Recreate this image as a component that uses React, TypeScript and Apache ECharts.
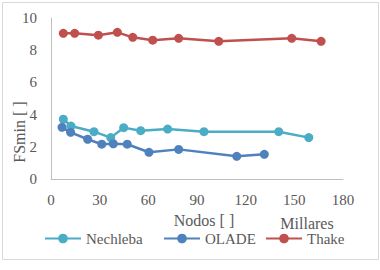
import React, { useEffect, useRef } from "react";
import * as echarts from "echarts";

const nechlebaX = [7.6, 12.3, 26.5, 36.8, 44.8, 55.3, 71.9, 94.3, 140.4, 158.9];
const nechlebaY = [3.71, 3.29, 2.94, 2.57, 3.19, 3.0, 3.1, 2.94, 2.94, 2.57];
const oladeX = [6.8, 12.1, 22.6, 31.3, 38.4, 47.0, 60.4, 78.7, 114.5, 131.5];
const oladeY = [3.21, 2.9, 2.47, 2.16, 2.19, 2.16, 1.66, 1.84, 1.41, 1.53];
const thakeX = [7.6, 14.6, 29.2, 40.9, 50.4, 62.7, 78.7, 103.4, 148.4, 166.5];
const thakeY = [9.05, 9.05, 8.93, 9.11, 8.8, 8.62, 8.74, 8.55, 8.74, 8.55];

const seriesNames = ["Nechleba", "OLADE", "Thake"];
const seriesColors = ["#4BACC6", "#4F81BD", "#C0504D"];
const legendLefts = [39, 158, 260];
const xTitle = "Nodos [ ]";
const yTitle = "FSmin [ ]";
const unitLabel = "Millares";

const FONT = "Liberation Serif";
const TXT = "#595959";

function zip(xs: number[], ys: number[]) {
  return xs.map((x, i) => [x, ys[i]]);
}

export default function App() {
  const ref = useRef<HTMLDivElement>(null);
  useEffect(() => {
    if (!ref.current) return;
    const chart = echarts.init(ref.current, undefined, { renderer: "svg" });
    const datas = [zip(nechlebaX, nechlebaY), zip(oladeX, oladeY), zip(thakeX, thakeY)];
    chart.setOption({
      animation: false,
      backgroundColor: "#ffffff",
      textStyle: { fontFamily: FONT },
      grid: { left: 51, top: 18, right: 37, bottom: 91, containLabel: false },
      xAxis: {
        type: "value",
        min: 0,
        max: 180,
        interval: 30,
        axisLine: { show: true, lineStyle: { color: "#BFBFBF", width: 1 } },
        axisTick: { show: false },
        splitLine: { show: false },
        axisLabel: { color: TXT, fontSize: 15, fontFamily: FONT, margin: 13 },
      },
      yAxis: {
        type: "value",
        min: 0,
        max: 10,
        interval: 2,
        axisLine: { show: true, lineStyle: { color: "#BFBFBF", width: 1 } },
        axisTick: { show: false },
        splitLine: { show: false },
        axisLabel: { color: TXT, fontSize: 15, fontFamily: FONT, margin: 14 },
      },
      legend: seriesNames.map((name, i) => ({
        left: legendLefts[i],
        top: 226,
        itemWidth: 36,
        itemHeight: 12,
        textStyle: { color: TXT, fontSize: 15, fontFamily: FONT },
        data: [name],
      })),
      graphic: [
        {
          type: "rect",
          shape: { x: 2.5, y: 2.5, width: 376, height: 257 },
          style: { fill: "none", stroke: "#D9D9D9", lineWidth: 1 },
          silent: true,
        },
        {
          type: "text",
          x: 204,
          y: 220,
          style: {
            text: xTitle,
            fill: TXT,
            fontSize: 16,
            fontFamily: FONT,
            align: "center",
            verticalAlign: "middle",
          },
        },
        {
          type: "text",
          x: 307,
          y: 223,
          style: {
            text: unitLabel,
            fill: TXT,
            fontSize: 16,
            fontFamily: FONT,
            align: "center",
            verticalAlign: "middle",
          },
        },
        {
          type: "text",
          x: 19,
          y: 132,
          rotation: Math.PI / 2,
          style: {
            text: yTitle,
            fill: TXT,
            fontSize: 16,
            fontFamily: FONT,
            align: "center",
            verticalAlign: "middle",
          },
        },
      ],
      series: seriesNames.map((name, i) => ({
        name,
        type: "line",
        data: datas[i],
        symbol: "circle",
        symbolSize: 9,
        color: seriesColors[i],
        lineStyle: { width: 2.5, color: seriesColors[i] },
        itemStyle: { color: seriesColors[i] },
      })),
    });
    return () => chart.dispose();
  }, []);
  return <div ref={ref} style={{ width: 380, height: 270, position: "absolute", left: 0, top: 0 }} />;
}
